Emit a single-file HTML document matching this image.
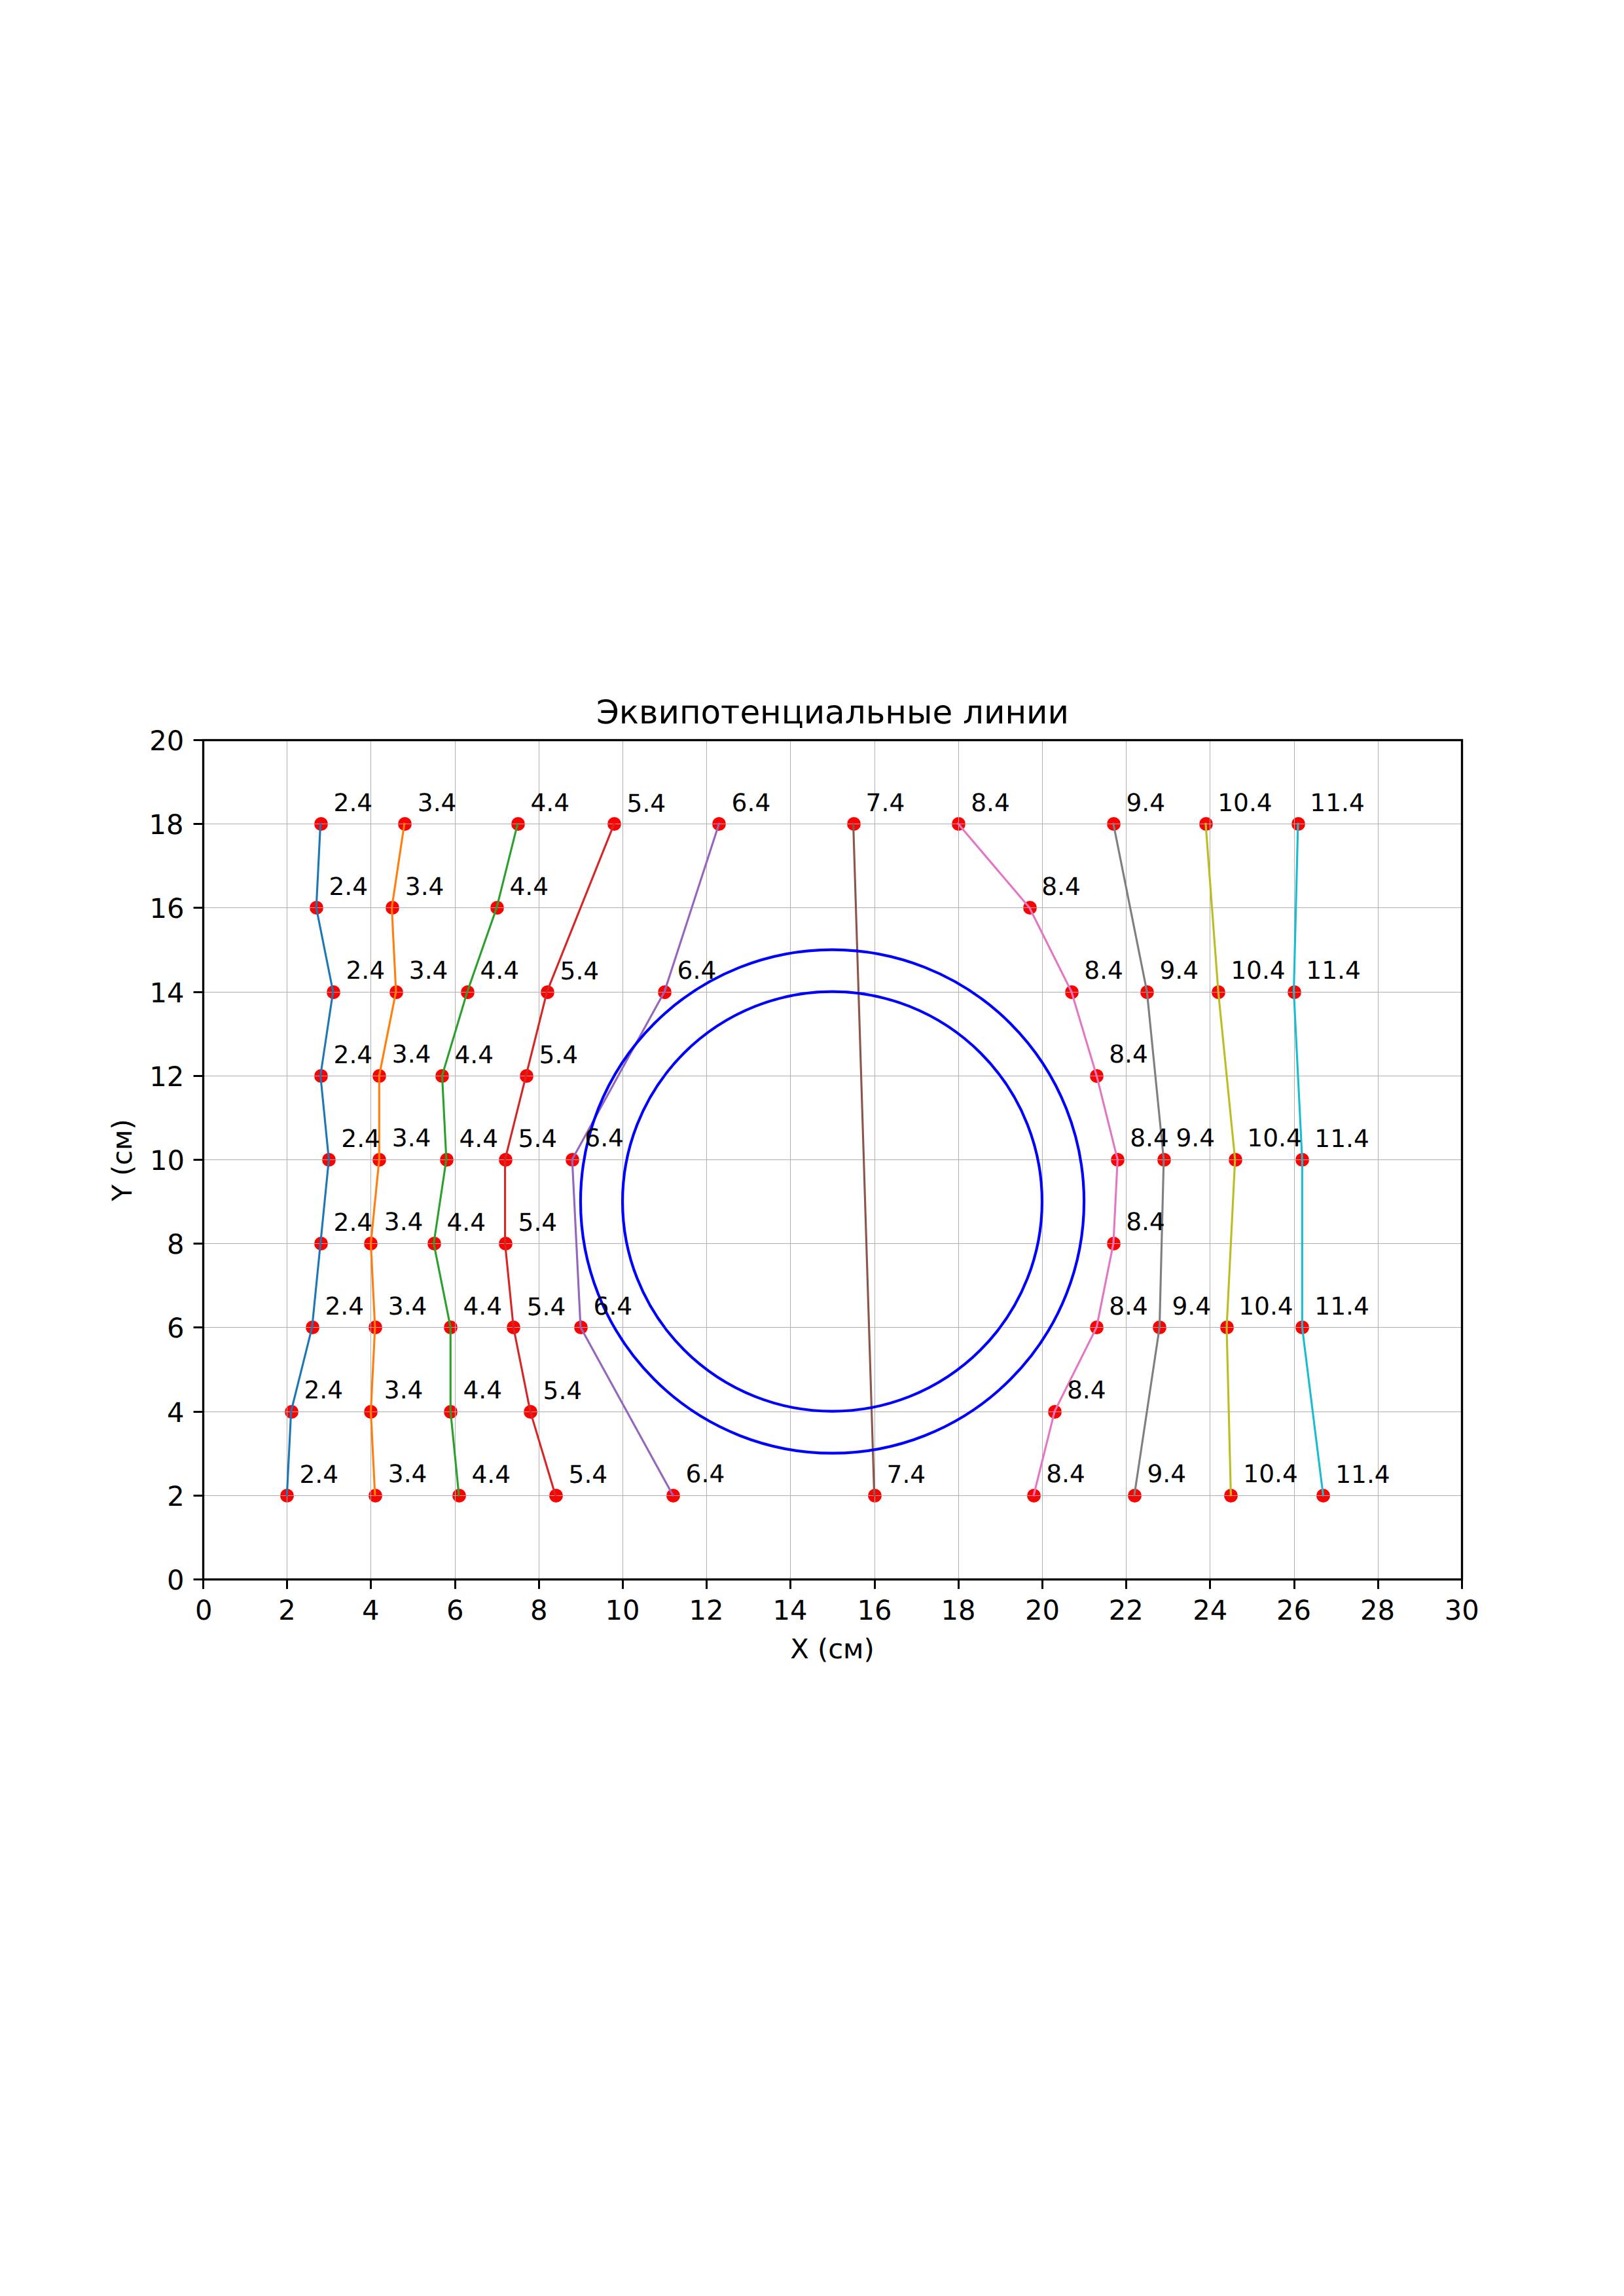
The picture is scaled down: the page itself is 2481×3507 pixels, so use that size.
<!DOCTYPE html>
<html lang="ru"><head><meta charset="utf-8"><title>Эквипотенциальные линии</title>
<style>html,body{margin:0;padding:0;background:#fff}body{width:2481px;height:3507px;overflow:hidden}svg{display:block}text{font-family:"DejaVu Sans","Liberation Sans",sans-serif;fill:#000;text-rendering:geometricPrecision}.tk{font-size:41.667px}.lb{font-size:37.500px}.tt{font-size:50.000px}</style></head><body>
<svg width="2481" height="3507" viewBox="0 0 2481 3507">
<rect x="0" y="0" width="2481" height="3507" fill="#fff"/>
<g fill="#ff0000">
<circle cx="438.50" cy="2284.50" r="10.45"/>
<circle cx="445.50" cy="2156.50" r="10.45"/>
<circle cx="477.50" cy="2027.50" r="10.45"/>
<circle cx="490.50" cy="1899.50" r="10.45"/>
<circle cx="502.50" cy="1771.50" r="10.45"/>
<circle cx="490.50" cy="1643.50" r="10.45"/>
<circle cx="509.50" cy="1515.50" r="10.45"/>
<circle cx="483.50" cy="1386.50" r="10.45"/>
<circle cx="490.50" cy="1258.50" r="10.45"/>
<circle cx="573.50" cy="2284.50" r="10.45"/>
<circle cx="566.50" cy="2156.50" r="10.45"/>
<circle cx="573.50" cy="2027.50" r="10.45"/>
<circle cx="566.50" cy="1899.50" r="10.45"/>
<circle cx="579.50" cy="1771.50" r="10.45"/>
<circle cx="579.50" cy="1643.50" r="10.45"/>
<circle cx="605.50" cy="1515.50" r="10.45"/>
<circle cx="599.50" cy="1386.50" r="10.45"/>
<circle cx="618.50" cy="1258.50" r="10.45"/>
<circle cx="701.50" cy="2284.50" r="10.45"/>
<circle cx="688.50" cy="2156.50" r="10.45"/>
<circle cx="688.50" cy="2027.50" r="10.45"/>
<circle cx="663.50" cy="1899.50" r="10.45"/>
<circle cx="682.50" cy="1771.50" r="10.45"/>
<circle cx="675.50" cy="1643.50" r="10.45"/>
<circle cx="714.50" cy="1515.50" r="10.45"/>
<circle cx="759.50" cy="1386.50" r="10.45"/>
<circle cx="791.50" cy="1258.50" r="10.45"/>
<circle cx="849.50" cy="2284.50" r="10.45"/>
<circle cx="810.50" cy="2156.50" r="10.45"/>
<circle cx="784.50" cy="2027.50" r="10.45"/>
<circle cx="772.50" cy="1899.50" r="10.45"/>
<circle cx="772.50" cy="1771.50" r="10.45"/>
<circle cx="804.50" cy="1643.50" r="10.45"/>
<circle cx="836.50" cy="1515.50" r="10.45"/>
<circle cx="938.50" cy="1258.50" r="10.45"/>
<circle cx="1028.50" cy="2284.50" r="10.45"/>
<circle cx="887.50" cy="2027.50" r="10.45"/>
<circle cx="874.50" cy="1771.50" r="10.45"/>
<circle cx="1015.50" cy="1515.50" r="10.45"/>
<circle cx="1098.50" cy="1258.50" r="10.45"/>
<circle cx="1336.50" cy="2284.50" r="10.45"/>
<circle cx="1304.50" cy="1258.50" r="10.45"/>
<circle cx="1579.50" cy="2284.50" r="10.45"/>
<circle cx="1611.50" cy="2156.50" r="10.45"/>
<circle cx="1675.50" cy="2027.50" r="10.45"/>
<circle cx="1701.50" cy="1899.50" r="10.45"/>
<circle cx="1707.50" cy="1771.50" r="10.45"/>
<circle cx="1675.50" cy="1643.50" r="10.45"/>
<circle cx="1637.50" cy="1515.50" r="10.45"/>
<circle cx="1573.50" cy="1386.50" r="10.45"/>
<circle cx="1464.50" cy="1258.50" r="10.45"/>
<circle cx="1733.50" cy="2284.50" r="10.45"/>
<circle cx="1771.50" cy="2027.50" r="10.45"/>
<circle cx="1778.50" cy="1771.50" r="10.45"/>
<circle cx="1752.50" cy="1515.50" r="10.45"/>
<circle cx="1701.50" cy="1258.50" r="10.45"/>
<circle cx="1880.50" cy="2284.50" r="10.45"/>
<circle cx="1874.50" cy="2027.50" r="10.45"/>
<circle cx="1887.50" cy="1771.50" r="10.45"/>
<circle cx="1861.50" cy="1515.50" r="10.45"/>
<circle cx="1842.50" cy="1258.50" r="10.45"/>
<circle cx="2021.50" cy="2284.50" r="10.45"/>
<circle cx="1989.50" cy="2027.50" r="10.45"/>
<circle cx="1989.50" cy="1771.50" r="10.45"/>
<circle cx="1977.50" cy="1515.50" r="10.45"/>
<circle cx="1983.50" cy="1258.50" r="10.45"/>
</g>
<g stroke="#b0b0b0" stroke-width="1.04" fill="none">
<line x1="310.5" y1="1130.5" x2="310.5" y2="2412.5"/>
<line x1="438.5" y1="1130.5" x2="438.5" y2="2412.5"/>
<line x1="566.5" y1="1130.5" x2="566.5" y2="2412.5"/>
<line x1="695.5" y1="1130.5" x2="695.5" y2="2412.5"/>
<line x1="823.5" y1="1130.5" x2="823.5" y2="2412.5"/>
<line x1="951.5" y1="1130.5" x2="951.5" y2="2412.5"/>
<line x1="1079.5" y1="1130.5" x2="1079.5" y2="2412.5"/>
<line x1="1207.5" y1="1130.5" x2="1207.5" y2="2412.5"/>
<line x1="1336.5" y1="1130.5" x2="1336.5" y2="2412.5"/>
<line x1="1464.5" y1="1130.5" x2="1464.5" y2="2412.5"/>
<line x1="1592.5" y1="1130.5" x2="1592.5" y2="2412.5"/>
<line x1="1720.5" y1="1130.5" x2="1720.5" y2="2412.5"/>
<line x1="1848.5" y1="1130.5" x2="1848.5" y2="2412.5"/>
<line x1="1977.5" y1="1130.5" x2="1977.5" y2="2412.5"/>
<line x1="2105.5" y1="1130.5" x2="2105.5" y2="2412.5"/>
<line x1="2233.5" y1="1130.5" x2="2233.5" y2="2412.5"/>
<line x1="310.5" y1="2412.5" x2="2233.5" y2="2412.5"/>
<line x1="310.5" y1="2284.5" x2="2233.5" y2="2284.5"/>
<line x1="310.5" y1="2156.5" x2="2233.5" y2="2156.5"/>
<line x1="310.5" y1="2027.5" x2="2233.5" y2="2027.5"/>
<line x1="310.5" y1="1899.5" x2="2233.5" y2="1899.5"/>
<line x1="310.5" y1="1771.5" x2="2233.5" y2="1771.5"/>
<line x1="310.5" y1="1643.5" x2="2233.5" y2="1643.5"/>
<line x1="310.5" y1="1515.5" x2="2233.5" y2="1515.5"/>
<line x1="310.5" y1="1386.5" x2="2233.5" y2="1386.5"/>
<line x1="310.5" y1="1258.5" x2="2233.5" y2="1258.5"/>
<line x1="310.5" y1="1130.5" x2="2233.5" y2="1130.5"/>
</g>
<g fill="none" stroke-width="3.125" stroke-linejoin="round" stroke-linecap="square">
<polyline stroke="#1f77b4" points="438.31,2283.78 444.72,2155.60 476.77,2027.41 489.58,1899.23 502.40,1771.04 489.58,1642.86 508.81,1514.67 483.17,1386.49 489.58,1258.30"/>
<polyline stroke="#ff7f0e" points="572.90,2283.78 566.50,2155.60 572.90,2027.41 566.50,1899.23 579.31,1771.04 579.31,1642.86 604.95,1514.67 598.54,1386.49 617.77,1258.30"/>
<polyline stroke="#2ca02c" points="701.09,2283.78 688.27,2155.60 688.27,2027.41 662.63,1899.23 681.86,1771.04 675.45,1642.86 713.91,1514.67 758.77,1386.49 790.82,1258.30"/>
<polyline stroke="#d62728" points="848.50,2283.78 810.05,2155.60 784.41,2027.41 771.59,1899.23 771.59,1771.04 803.64,1642.86 835.68,1514.67 938.23,1258.30"/>
<polyline stroke="#9467bd" points="1027.96,2283.78 886.96,2027.41 874.14,1771.04 1015.14,1514.67 1098.46,1258.30"/>
<polyline stroke="#8c564b" points="1335.61,2283.78 1303.56,1258.30"/>
<polyline stroke="#e377c2" points="1579.16,2283.78 1611.20,2155.60 1675.30,2027.41 1700.93,1899.23 1707.34,1771.04 1675.30,1642.86 1636.84,1514.67 1572.75,1386.49 1463.79,1258.30"/>
<polyline stroke="#7f7f7f" points="1732.98,2283.78 1771.43,2027.41 1777.84,1771.04 1752.21,1514.67 1700.93,1258.30"/>
<polyline stroke="#bcbd22" points="1880.39,2283.78 1873.98,2027.41 1886.80,1771.04 1861.16,1514.67 1841.94,1258.30"/>
<polyline stroke="#17becf" points="2021.39,2283.78 1989.35,2027.41 1989.35,1771.04 1976.53,1514.67 1982.94,1258.30"/>
</g>
<g fill="none" stroke="#0000ff" stroke-width="4.17">
<circle cx="1271.51" cy="1835.13" r="320.46"/>
<circle cx="1271.51" cy="1835.13" r="384.56"/>
</g>
<g stroke="#000" stroke-width="3.00">
<line x1="310.5" y1="2412.5" x2="310.5" y2="2427.08"/>
<line x1="438.5" y1="2412.5" x2="438.5" y2="2427.08"/>
<line x1="566.5" y1="2412.5" x2="566.5" y2="2427.08"/>
<line x1="695.5" y1="2412.5" x2="695.5" y2="2427.08"/>
<line x1="823.5" y1="2412.5" x2="823.5" y2="2427.08"/>
<line x1="951.5" y1="2412.5" x2="951.5" y2="2427.08"/>
<line x1="1079.5" y1="2412.5" x2="1079.5" y2="2427.08"/>
<line x1="1207.5" y1="2412.5" x2="1207.5" y2="2427.08"/>
<line x1="1336.5" y1="2412.5" x2="1336.5" y2="2427.08"/>
<line x1="1464.5" y1="2412.5" x2="1464.5" y2="2427.08"/>
<line x1="1592.5" y1="2412.5" x2="1592.5" y2="2427.08"/>
<line x1="1720.5" y1="2412.5" x2="1720.5" y2="2427.08"/>
<line x1="1848.5" y1="2412.5" x2="1848.5" y2="2427.08"/>
<line x1="1977.5" y1="2412.5" x2="1977.5" y2="2427.08"/>
<line x1="2105.5" y1="2412.5" x2="2105.5" y2="2427.08"/>
<line x1="2233.5" y1="2412.5" x2="2233.5" y2="2427.08"/>
<line x1="295.55" y1="2412.5" x2="310.5" y2="2412.5"/>
<line x1="295.55" y1="2284.5" x2="310.5" y2="2284.5"/>
<line x1="295.55" y1="2156.5" x2="310.5" y2="2156.5"/>
<line x1="295.55" y1="2027.5" x2="310.5" y2="2027.5"/>
<line x1="295.55" y1="1899.5" x2="310.5" y2="1899.5"/>
<line x1="295.55" y1="1771.5" x2="310.5" y2="1771.5"/>
<line x1="295.55" y1="1643.5" x2="310.5" y2="1643.5"/>
<line x1="295.55" y1="1515.5" x2="310.5" y2="1515.5"/>
<line x1="295.55" y1="1386.5" x2="310.5" y2="1386.5"/>
<line x1="295.55" y1="1258.5" x2="310.5" y2="1258.5"/>
<line x1="295.55" y1="1130.5" x2="310.5" y2="1130.5"/>
</g>
<rect x="310.5" y="1130.5" width="1923.0" height="1282.0" fill="none" stroke="#000" stroke-width="3.33" stroke-linejoin="miter"/>
<g class="lb">
<text x="457.48" y="2265.00">2.4</text>
<text x="464.48" y="2136.00">2.4</text>
<text x="496.48" y="2008.00">2.4</text>
<text x="509.56" y="1880.00">2.4</text>
<text x="521.29" y="1752.00">2.4</text>
<text x="509.56" y="1624.00">2.4</text>
<text x="528.47" y="1495.00">2.4</text>
<text x="502.48" y="1367.00">2.4</text>
<text x="509.56" y="1239.00">2.4</text>
<text x="592.82" y="2264.00">3.4</text>
<text x="586.82" y="2136.00">3.4</text>
<text x="592.82" y="2008.00">3.4</text>
<text x="586.82" y="1879.00">3.4</text>
<text x="598.82" y="1751.00">3.4</text>
<text x="598.82" y="1623.00">3.4</text>
<text x="624.82" y="1495.00">3.4</text>
<text x="618.82" y="1367.00">3.4</text>
<text x="637.83" y="1239.00">3.4</text>
<text x="720.48" y="2265.00">4.4</text>
<text x="707.48" y="2136.00">4.4</text>
<text x="707.48" y="2008.00">4.4</text>
<text x="682.46" y="1880.00">4.4</text>
<text x="701.48" y="1752.00">4.4</text>
<text x="694.43" y="1624.00">4.4</text>
<text x="733.48" y="1495.00">4.4</text>
<text x="778.50" y="1367.00">4.4</text>
<text x="810.46" y="1239.00">4.4</text>
<text x="868.56" y="2265.00">5.4</text>
<text x="829.56" y="2137.00">5.4</text>
<text x="804.64" y="2009.00">5.4</text>
<text x="791.55" y="1880.00">5.4</text>
<text x="791.55" y="1752.00">5.4</text>
<text x="823.55" y="1624.00">5.4</text>
<text x="855.56" y="1496.00">5.4</text>
<text x="957.56" y="1240.00">5.4</text>
<text x="1047.61" y="2264.00">6.4</text>
<text x="906.59" y="2008.00">6.4</text>
<text x="893.31" y="1751.00">6.4</text>
<text x="1034.62" y="1495.00">6.4</text>
<text x="1117.62" y="1239.00">6.4</text>
<text x="1354.59" y="2265.00">7.4</text>
<text x="1322.62" y="1239.00">7.4</text>
<text x="1598.19" y="2264.00">8.4</text>
<text x="1630.03" y="2136.00">8.4</text>
<text x="1694.21" y="2008.00">8.4</text>
<text x="1720.26" y="1879.00">8.4</text>
<text x="1726.13" y="1751.00">8.4</text>
<text x="1694.21" y="1623.00">8.4</text>
<text x="1656.19" y="1495.00">8.4</text>
<text x="1591.21" y="1367.00">8.4</text>
<text x="1483.19" y="1239.00">8.4</text>
<text x="1752.44" y="2264.00">9.4</text>
<text x="1790.51" y="2008.00">9.4</text>
<text x="1796.47" y="1751.00">9.4</text>
<text x="1771.44" y="1495.00">9.4</text>
<text x="1720.52" y="1239.00">9.4</text>
<text x="1899.36" y="2264.00">10.4</text>
<text x="1892.23" y="2008.00">10.4</text>
<text x="1905.35" y="1751.00">10.4</text>
<text x="1880.20" y="1495.00">10.4</text>
<text x="1860.20" y="1239.00">10.4</text>
<text x="2040.23" y="2265.00">11.4</text>
<text x="2008.33" y="2008.00">11.4</text>
<text x="2008.33" y="1752.00">11.4</text>
<text x="1995.33" y="1495.00">11.4</text>
<text x="2001.33" y="1239.00">11.4</text>
</g>
<g class="tk" text-anchor="middle">
<text x="311.17" y="2474.00">0</text>
<text x="438.39" y="2474.00">2</text>
<text x="566.33" y="2474.00">4</text>
<text x="695.37" y="2474.00">6</text>
<text x="823.27" y="2474.00">8</text>
<text x="951.07" y="2474.00">10</text>
<text x="1078.90" y="2474.00">12</text>
<text x="1207.04" y="2474.00">14</text>
<text x="1336.02" y="2474.00">16</text>
<text x="1463.98" y="2474.00">18</text>
<text x="1592.62" y="2474.00">20</text>
<text x="1720.37" y="2474.00">22</text>
<text x="1848.79" y="2474.00">24</text>
<text x="1976.56" y="2474.00">26</text>
<text x="2104.56" y="2474.00">28</text>
<text x="2233.23" y="2474.00">30</text>
</g>
<g class="tk" text-anchor="end">
<text x="281.64" y="2428.00">0</text>
<text x="281.68" y="2300.00">2</text>
<text x="281.43" y="2172.00">4</text>
<text x="281.55" y="2043.00">6</text>
<text x="281.52" y="1915.00">8</text>
<text x="281.94" y="1787.00">10</text>
<text x="281.26" y="1659.00">12</text>
<text x="281.45" y="1531.00">14</text>
<text x="281.50" y="1402.00">16</text>
<text x="280.54" y="1274.00">18</text>
<text x="281.25" y="1146.00">20</text>
</g>
<text class="tk" text-anchor="middle" x="1271.51" y="2533.00">X (см)</text>
<text class="tk" text-anchor="middle" transform="translate(201.00,1772.04) rotate(-90)">Y (см)</text>
<text class="tt" x="911.00 945.75 976.00 1005.50 1037.88 1070.50 1101.12 1130.38 1161.12 1193.75 1227.75 1260.12 1290.75 1322.75 1352.25 1384.88 1424.38 1455.12 1471.00 1503.00 1535.38 1568.00 1600.38" y="1105.00">Эквипотенциальные линии</text>
</svg></body></html>
